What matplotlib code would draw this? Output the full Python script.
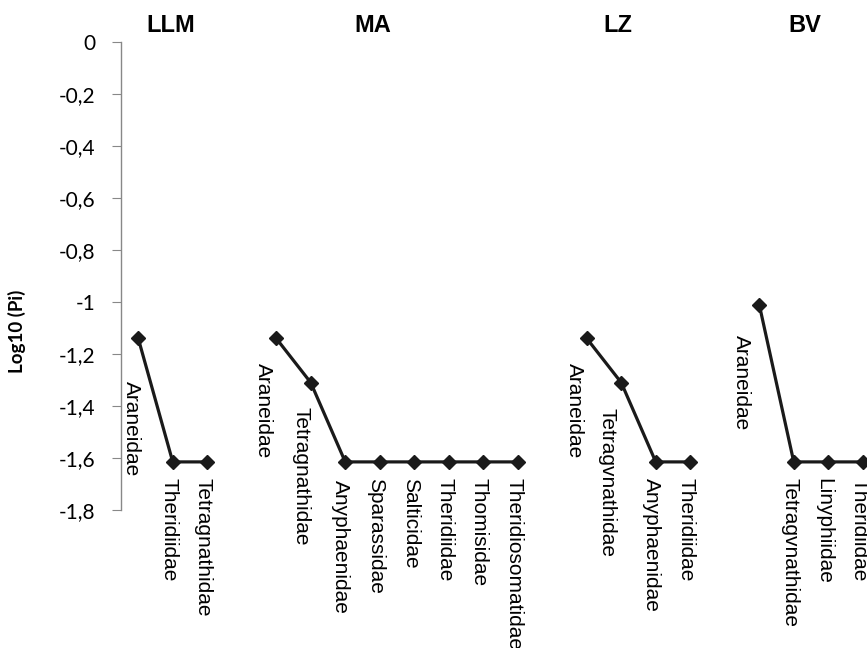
import matplotlib
matplotlib.use("Agg")
import matplotlib.pyplot as plt
from matplotlib.ticker import FuncFormatter, MultipleLocator

# ---------- Datos ----------
sitios = ["LLM", "MA", "LZ", "BV"]
familias_llm = ["Araneidae", "Theridiidae", "Tetragnathidae"]
familias_ma = ["Araneidae", "Tetragnathidae", "Anyphaenidae", "Sparassidae",
               "Salticidae", "Theridiidae", "Thomisidae", "Theridiosomatidae"]
familias_lz = ["Araneidae", "Tetragvnathidae", "Anyphaenidae", "Theridiidae"]
familias_bv = ["Araneidae", "Tetragvnathidae", "Linyphiidae", "Theridiidae"]

log_pi_llm = [-1.14, -1.615, -1.615]
log_pi_ma = [-1.14, -1.31, -1.615, -1.615, -1.615, -1.615, -1.615, -1.615]
log_pi_lz = [-1.14, -1.31, -1.615, -1.615]
log_pi_bv = [-1.01, -1.615, -1.615, -1.615]

grupos = [(familias_llm, log_pi_llm), (familias_ma, log_pi_ma),
          (familias_lz, log_pi_lz), (familias_bv, log_pi_bv)]

# desplazamiento de etiquetas (px): (dx, dy hacia abajo)
desp = {
    (0, 0): (-7, 43),
    (1, 0): (-13, 25), (1, 1): (-10, 24), (1, 2): (-5, 18),
    (2, 0): (-12, 25), (2, 1): (-14, 25),
    (3, 0): (-18, 30),
}
# posicion horizontal de los titulos (en unidades de categoria)
titulo_x = [0.95, 6.8, 13.9, 19.33]

W, H = 867, 648
fig = plt.figure(figsize=(W / 100, H / 100), dpi=100)
izq, der, arr, aba = 121, 867, 42, 510
ax = fig.add_axes([izq / W, 1 - aba / H, (der - izq) / W, (aba - arr) / H])

color = "#1a1a1a"
inicio = 0
for g, (fams, vals) in enumerate(grupos):
    xs = list(range(inicio, inicio + len(vals)))
    ax.plot(xs, vals, color=color, lw=2.3, marker="D", ms=7, clip_on=False, zorder=3)
    for k, (x, y, nom) in enumerate(zip(xs, vals, fams)):
        dx, dy = desp.get((g, k), (-4, 16))
        ax.annotate(nom, (x, y), xytext=(dx, -dy), textcoords="offset pixels",
                    rotation=-90, ha="center", va="top", fontsize=15,
                    family=["Liberation Sans", "DejaVu Sans"], color="black",
                    annotation_clip=False)
    ax.annotate(sitios[g], xy=(titulo_x[g], H - 25), xycoords=("data", "figure pixels"),
                fontsize=17, fontweight="bold", ha="center", va="center",
                family=["Liberation Sans Narrow", "Liberation Sans"],
                annotation_clip=False)
    inicio += len(vals) + 1

ax.set_xlim(-0.5, (der - izq - 17.25) / 34.5)
ax.set_ylim(-1.8, 0)
ax.yaxis.set_major_locator(MultipleLocator(0.2))

def fmt(v, pos):
    if abs(v) < 1e-9:
        return "0"
    s = "%g" % round(v, 1)
    return s.replace(".", ",")

ax.yaxis.set_major_formatter(FuncFormatter(fmt))
for lado in ["top", "right", "bottom"]:
    ax.spines[lado].set_visible(False)
ax.spines["left"].set_color("#888888")
ax.spines["left"].set_linewidth(1)
ax.tick_params(axis="y", direction="out", length=6.5, color="#888888", pad=12,
               labelsize=15)
for lab in ax.get_yticklabels():
    lab.set_family(["Lato", "DejaVu Sans"])
ax.set_xticks([])

fig.text(17 / W, 1 - 331 / H, "Log10 (Pi)", rotation=90, ha="center", va="center",
         fontsize=13.5, fontweight="bold", family=["Lato", "DejaVu Sans"])

fig.savefig("out.png", dpi=100)
